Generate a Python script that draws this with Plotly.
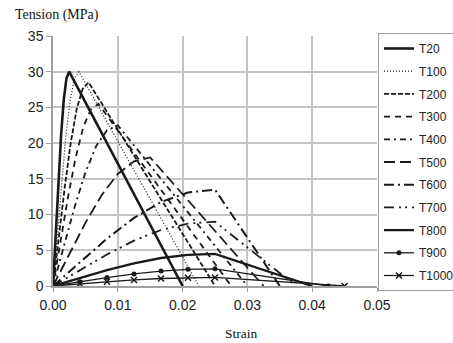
import plotly.graph_objects as go

# Strain points (ascending branch 6 steps to peak, then end strain)
names = ["T20", "T100", "T200", "T300", "T400", "T500", "T600", "T700", "T800", "T900", "T1000"]

x_T20 = [0, 0.000417, 0.000833, 0.00125, 0.001667, 0.002083, 0.0025, 0.02]
y_T20 = [0, 7.48, 14.73, 21.18, 26.13, 29.09, 30.0, 0]
x_T100 = [0, 0.000667, 0.001333, 0.002, 0.002667, 0.003333, 0.004, 0.0225]
y_T100 = [0, 7.48, 14.73, 21.18, 26.13, 29.09, 30.0, 0]
x_T200 = [0, 0.000917, 0.001833, 0.00275, 0.003667, 0.004583, 0.0055, 0.025]
y_T200 = [0, 7.11, 13.99, 20.12, 24.82, 27.63, 28.5, 0]
x_T300 = [0, 0.001167, 0.002333, 0.0035, 0.004667, 0.005833, 0.007, 0.0275]
y_T300 = [0, 6.36, 12.52, 18.0, 22.21, 24.72, 25.5, 0]
x_T400 = [0, 0.001667, 0.003333, 0.005, 0.006667, 0.008333, 0.01, 0.03]
y_T400 = [0, 5.61, 11.05, 15.88, 19.6, 21.81, 22.5, 0]
x_T500 = [0, 0.0025, 0.005, 0.0075, 0.01, 0.0125, 0.015, 0.0325]
y_T500 = [0, 4.49, 8.84, 12.71, 15.68, 17.45, 18.0, 0]
x_T600 = [0, 0.004167, 0.008333, 0.0125, 0.016667, 0.020833, 0.025, 0.035]
y_T600 = [0, 3.37, 6.63, 9.53, 11.76, 13.09, 13.5, 0]
x_T700 = [0, 0.004167, 0.008333, 0.0125, 0.016667, 0.020833, 0.025, 0.0375]
y_T700 = [0, 2.24, 4.42, 6.35, 7.84, 8.73, 9.0, 0]
x_T800 = [0, 0.004167, 0.008333, 0.0125, 0.016667, 0.020833, 0.025, 0.04]
y_T800 = [0, 1.12, 2.21, 3.18, 3.92, 4.36, 4.5, 0]
x_T900 = [0, 0.004167, 0.008333, 0.0125, 0.016667, 0.020833, 0.025, 0.0425]
y_T900 = [0, 0.6, 1.18, 1.69, 2.09, 2.33, 2.4, 0]
x_T1000 = [0, 0.004167, 0.008333, 0.0125, 0.016667, 0.020833, 0.025, 0.045]
y_T1000 = [0, 0.3, 0.59, 0.85, 1.05, 1.16, 1.2, 0]

xs = [x_T20, x_T100, x_T200, x_T300, x_T400, x_T500, x_T600, x_T700, x_T800, x_T900, x_T1000]
ys = [y_T20, y_T100, y_T200, y_T300, y_T400, y_T500, y_T600, y_T700, y_T800, y_T900, y_T1000]

x_ticks = [0, 0.01, 0.02, 0.03, 0.04, 0.05]
y_ticks = [0, 5, 10, 15, 20, 25, 30, 35]

C = "#1a1a1a"
styles = [
    dict(dash="solid", width=2.6),
    dict(dash="1px,2px", width=1.2),
    dict(dash="5px,2px", width=1.8),
    dict(dash="6px,5px", width=1.8),
    dict(dash="6px,4px,2px,4px", width=1.8),
    dict(dash="11px,5px", width=1.8),
    dict(dash="10px,4px,2px,4px", width=2.0),
    dict(dash="10px,5px,2px,4px,2px,5px", width=1.8),
    dict(dash="solid", width=2.3),
    dict(dash="solid", width=1.3),
    dict(dash="solid", width=1.3),
]
markers = [None] * 9 + [dict(symbol="circle", size=5, color=C), dict(symbol="x-thin", size=6, color=C, line=dict(color=C, width=1.5))]

fig = go.Figure()
for i, n in enumerate(names):
    mode = "lines+markers" if markers[i] else "lines"
    tr = dict(x=xs[i], y=ys[i], name=n, mode=mode, legendgroup=n,
              line=dict(color=C, width=styles[i]["width"], dash=styles[i]["dash"]))
    if markers[i]:
        tr["marker"] = markers[i]
    fig.add_trace(go.Scatter(**tr))

fig.update_layout(
    width=453, height=343,
    margin=dict(l=53, r=76, t=36, b=57, autoexpand=False),
    plot_bgcolor="white", paper_bgcolor="white",
    font=dict(family="Liberation Sans, Arial", size=14, color="#222"),
    xaxis=dict(range=[0, 0.05], tickvals=x_ticks, tickformat=".2f",
               showgrid=True, gridcolor="#c4c4c4", gridwidth=1.5,
               showline=True, linecolor="#a0a0a0", linewidth=1.5,
               ticks="outside", ticklen=4, tickcolor="#a0a0a0",
               ticklabelstandoff=1,
               zeroline=False, fixedrange=True),
    yaxis=dict(range=[0, 35], tickvals=y_ticks,
               showgrid=True, gridcolor="#c4c4c4", gridwidth=1.5,
               showline=True, linecolor="#a0a0a0", linewidth=1.5,
               ticks="outside", ticklen=5, tickcolor="#a0a0a0",
               zeroline=False, fixedrange=True),
    legend=dict(x=1.003, y=1.012, xanchor="left", yanchor="top",
                bordercolor="#a0a0a0", borderwidth=1, bgcolor="white",
                tracegroupgap=3.7, maxheight=330,
                font=dict(size=12, color="#222")),
    showlegend=True,
)
fig.add_annotation(text="Tension (MPa)", xref="paper", yref="paper", x=-0.123, y=1.084,
                   xanchor="left", yanchor="middle", showarrow=False,
                   font=dict(family="Liberation Serif, Times New Roman", size=14, color="#111"))
fig.add_annotation(text="Strain", xref="paper", yref="paper", x=0.58, y=-0.188,
                   xanchor="center", yanchor="middle", showarrow=False,
                   font=dict(family="Liberation Serif, Times New Roman", size=13.5, color="#111"))

fig.write_html("out.html")
